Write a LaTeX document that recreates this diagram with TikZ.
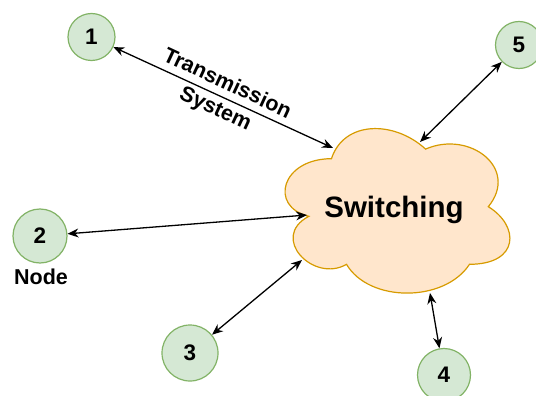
\documentclass[tikz,border=0pt]{standalone}
\usepackage{fontspec}
\setmainfont{Liberation Sans}
\usetikzlibrary{arrows.meta}
\definecolor{gfill}{HTML}{D5E8D4}
\definecolor{gline}{HTML}{82B366}
\definecolor{ofill}{HTML}{FFE6CC}
\definecolor{oline}{HTML}{D79B00}
\begin{document}
\begin{tikzpicture}[x=1pt,y=-1pt,
  circ/.style={circle, draw=gline, fill=gfill, line width=1.2pt, inner sep=0pt,
    font=\fontsize{22.5}{24}\selectfont\bfseries},
  arr/.style={{Stealth[length=11pt,width=9pt]}-{Stealth[length=11pt,width=9pt]},
    line width=1.3pt, black},
  lbl/.style={font=\fontsize{21.5}{28}\selectfont\bfseries},
  cloudsty/.style={draw=oline, fill=ofill, line width=1.2pt}]
\useasboundingbox (0,0) rectangle (536,396);
% cloud
\begin{scope}[shift={(268.7,110.7)}, x=251pt, y=-192pt]
\draw[cloudsty] (0.25,0.25) .. controls (0.05,0.25) and (0,0.5) .. (0.16,0.55)
  .. controls (0,0.66) and (0.18,0.9) .. (0.31,0.8)
  .. controls (0.4,1) and (0.7,1) .. (0.8,0.8)
  .. controls (1,0.8) and (1,0.6) .. (0.875,0.5)
  .. controls (1,0.3) and (0.8,0.1) .. (0.625,0.2)
  .. controls (0.5,0.05) and (0.3,0.05) .. (0.25,0.25) -- cycle;
\end{scope}
\node[font=\fontsize{29.5}{30}\selectfont\bfseries, anchor=base] (sw) at (394,217) {Switching};
% cloud attachment points
\coordinate (c1) at (333,148);
\coordinate (c2) at (307,215);
\coordinate (c3) at (302,260);
\coordinate (c4) at (430,293);
\coordinate (c5) at (420,142);
% nodes
\node[circ, minimum size=47pt] (n1) at (91.5,37) {1};
\node[circ, minimum size=54pt] (n2) at (40,236) {2};
\node[circ, minimum size=56pt] (n3) at (190,353) {3};
\node[circ, minimum size=53pt] (n4) at (444,375) {4};
\node[circ, minimum size=47pt] (n5) at (519,45) {5};
% connectors
\draw[arr] (n1) -- (c1);
\draw[arr] (n2) -- (c2);
\draw[arr] (n3) -- (c3);
\draw[arr] (n4) -- (c4);
\draw[arr] (n5) -- (c5);
% labels
\node[lbl, align=center, rotate=-25] (ts) at (221,97) {Transmission\\System};
\node[lbl] (nl) at (41,277) {Node};
\end{tikzpicture}
\end{document}
